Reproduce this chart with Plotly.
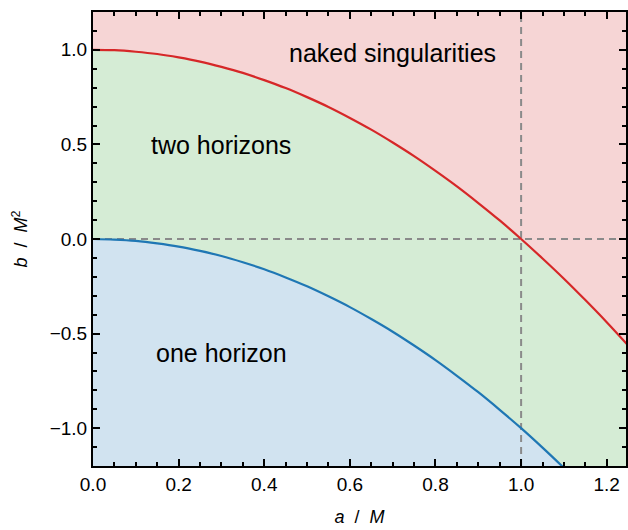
import plotly.graph_objects as go

# values
a_vals = [0.00, 0.05, 0.10, 0.15, 0.20, 0.25, 0.30, 0.35, 0.40, 0.45, 0.50, 0.55, 0.60,
          0.65, 0.70, 0.75, 0.80, 0.85, 0.90, 0.95, 1.00, 1.05, 1.10, 1.15, 1.20, 1.25]
b_red = [1.000, 0.998, 0.990, 0.978, 0.960, 0.938, 0.910, 0.878, 0.840, 0.798, 0.750, 0.698, 0.640,
         0.578, 0.510, 0.438, 0.360, 0.278, 0.190, 0.098, 0.000, -0.103, -0.210, -0.323, -0.440, -0.563]
a_blue = [0.00, 0.05, 0.10, 0.15, 0.20, 0.25, 0.30, 0.35, 0.40, 0.45, 0.50, 0.55, 0.60,
          0.65, 0.70, 0.75, 0.80, 0.85, 0.90, 0.95, 1.00, 1.05, 1.10]
b_blue = [0.000, -0.003, -0.010, -0.023, -0.040, -0.063, -0.090, -0.123, -0.160, -0.203, -0.250, -0.303, -0.360,
          -0.423, -0.490, -0.563, -0.640, -0.723, -0.810, -0.903, -1.000, -1.103, -1.210]
x_range = [0, 1.245]
y_range = [-1.2, 1.2]
ref_a = 1.0
ref_b = 0.0
labels = ["naked singularities", "two horizons", "one horizon"]
label_pos = [(0.70, 0.985), (0.30, 0.495), (0.30, -0.605)]

PINK = "#f6d5d5"
GREEN = "#d5ecd5"
BLUE_F = "#d1e3f0"
RED = "#d62728"
BLUE = "#1f77b4"
FONT = "Liberation Sans, Arial, sans-serif"

floor = y_range[0] - 1

fig = go.Figure()
fig.add_trace(go.Scatter(x=a_vals, y=[floor] * len(a_vals), mode="lines",
                         line=dict(width=0), hoverinfo="skip", showlegend=False))
fig.add_trace(go.Scatter(x=a_vals, y=b_red, mode="lines", line=dict(width=0, shape="spline"),
                         fill="tonexty", fillcolor=GREEN, hoverinfo="skip", showlegend=False))
fig.add_trace(go.Scatter(x=a_blue, y=[floor] * len(a_blue), mode="lines",
                         line=dict(width=0), hoverinfo="skip", showlegend=False))
fig.add_trace(go.Scatter(x=a_blue, y=b_blue, mode="lines", line=dict(width=0, shape="spline"),
                         fill="tonexty", fillcolor=BLUE_F, hoverinfo="skip", showlegend=False))
# dashed reference lines
fig.add_trace(go.Scatter(x=[x_range[0], a_vals[-1]], y=[ref_b, ref_b], mode="lines",
                         line=dict(color="#8a8a8a", width=2, dash="7px,5px"), showlegend=False))
fig.add_trace(go.Scatter(x=[ref_a, ref_a], y=y_range, mode="lines",
                         line=dict(color="#8a8a8a", width=2, dash="7px,5px"), showlegend=False))
# curves
fig.add_trace(go.Scatter(x=a_vals, y=b_red, mode="lines",
                         line=dict(color=RED, width=2.2, shape="spline"), showlegend=False))
fig.add_trace(go.Scatter(x=a_blue, y=b_blue, mode="lines",
                         line=dict(color=BLUE, width=2.2, shape="spline"), showlegend=False))

for txt, (xx, yy) in zip(labels, label_pos):
    fig.add_annotation(x=xx, y=yy, text=txt, showarrow=False,
                       font=dict(size=25, color="black", family=FONT))

axis_common = dict(showgrid=False, zeroline=False, showline=True, linecolor="black", linewidth=2,
                   ticks="inside", ticklen=7, tickwidth=1.5, tickcolor="black", mirror="allticks",
                   tickfont=dict(size=19, color="black", family=FONT))

fig.update_xaxes(range=x_range, dtick=0.2, tick0=0, tickformat=".1f",
                 minor=dict(ticks="inside", ticklen=4, tickwidth=1.5, tickcolor="black", dtick=0.05),
                 title=dict(text="<i>a</i>  /  <i>M</i>", font=dict(size=18, family=FONT, color="black"),
                            standoff=17),
                 **axis_common)
fig.update_yaxes(range=y_range, dtick=0.5, tick0=0, tickformat=".1f",
                 minor=dict(ticks="inside", ticklen=4, tickwidth=1.5, tickcolor="black", dtick=0.1),
                 title=dict(text="<i>b</i>  /  <i>M</i><sup>2</sup>", font=dict(size=18, family=FONT, color="black"),
                            standoff=17),
                 **axis_common)

fig.update_layout(width=628, height=530, margin=dict(l=93, r=0, t=12, b=64),
                  plot_bgcolor=PINK, paper_bgcolor="white", font=dict(family=FONT))

fig.write_html("out.html")
